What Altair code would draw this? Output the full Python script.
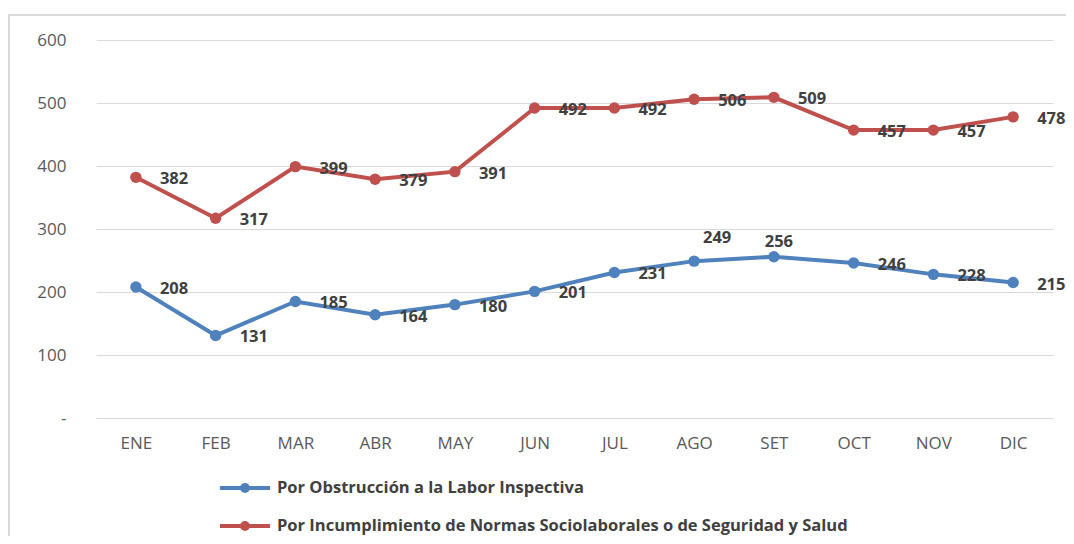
import altair as alt
import pandas as pd

months = ["ENE", "FEB", "MAR", "ABR", "MAY", "JUN", "JUL", "AGO", "SET", "OCT", "NOV", "DIC"]
obstruccion = [208, 131, 185, 164, 180, 201, 231, 249, 256, 246, 228, 215]
incumplimiento = [382, 317, 399, 379, 391, 492, 492, 506, 509, 457, 457, 478]
series_names = [
    "Por Obstrucción a la Labor Inspectiva",
    "Por Incumplimiento de Normas Sociolaborales o de Seguridad y Salud",
]
series_colors = ["#4F81BD", "#C0504D"]
y_ticks = [0, 100, 200, 300, 400, 500, 600]

rows = []
for s, vals in zip(series_names, [obstruccion, incumplimiento]):
    for m, v in zip(months, vals):
        rows.append({"mes": m, "valor": v, "serie": s})
df = pd.DataFrame(rows)

FONT = "Open Sans"

x_enc = alt.X("mes:N", sort=months, scale=alt.Scale(domain=months),
              axis=alt.Axis(title=None, labelAngle=0, labelFont=FONT, labelFontSize=17,
                            labelColor="#595959", labelPadding=17, ticks=False, domain=False,
                            grid=False))
y_enc = alt.Y("valor:Q", scale=alt.Scale(domain=[0, 600], nice=False),
              axis=alt.Axis(title=None, values=y_ticks,
                            labelExpr="datum.value == 0 ? '-' : datum.label",
                            labelFont=FONT, labelFontSize=17, labelColor="#595959",
                            labelPadding=30, ticks=False, domain=False,
                            grid=True, gridColor="#d9d9d9", gridWidth=1.2))
color_scale = alt.Scale(domain=series_names, range=series_colors)

base = alt.Chart(df)

legend = alt.Legend(
    title=None, orient="none", legendX=122, legendY=421, direction="vertical",
    symbolType="M-1,0H1M-0.12,0A0.12,0.12 0 1,1 0.12,0A0.12,0.12 0 1,1 -0.12,0",
    symbolSize=2500, symbolStrokeWidth=4,
    labelFont=FONT, labelFontSize=16.5, labelFontWeight="bold", labelColor="#404040",
    labelOffset=5, rowPadding=0, labelLimit=900,
)

lines = base.mark_line(strokeWidth=4).encode(
    x=x_enc, y=y_enc,
    color=alt.Color("serie:N", scale=color_scale, legend=legend),
)
points = base.mark_circle(size=130, opacity=1).encode(
    x=x_enc, y=y_enc,
    color=alt.Color("serie:N", scale=color_scale, legend=None),
)

label_style = dict(font=FONT, fontSize=16.5, fontWeight="bold", color="#404040", baseline="middle")
is_above = "datum.serie == '" + series_names[0] + "' && (datum.mes == 'AGO' || datum.mes == 'SET')"

labels = base.mark_text(align="left", dx=24, dy=2, **label_style).encode(
    x=x_enc, y=y_enc, text="valor:Q"
).transform_filter("!(" + is_above + ")")

label_ago = base.mark_text(align="center", dx=23, dy=-23, **label_style).encode(
    x=x_enc, y=y_enc, text="valor:Q"
).transform_filter("datum.serie == '" + series_names[0] + "' && datum.mes == 'AGO'")

label_set = base.mark_text(align="center", dx=5, dy=-15, **label_style).encode(
    x=x_enc, y=y_enc, text="valor:Q"
).transform_filter("datum.serie == '" + series_names[0] + "' && datum.mes == 'SET'")

frame = alt.Chart(alt.Data(values=[{}])).mark_rect(
    fill="transparent", stroke="#d9d9d9", strokeWidth=2, clip=False
).encode(
    x=alt.value(-87), x2=alt.value(1000), y=alt.value(-25), y2=alt.value(520)
)

chart = alt.layer(frame, lines, points, labels, label_ago, label_set).properties(
    width=957, height=378,
    background="white",
    autosize=alt.AutoSizeParams(type="none"),
    padding={"left": 88, "top": 32, "right": 13, "bottom": 118},
).configure_view(stroke="transparent", strokeWidth=0)

chart.save("out.html", embed_options={"renderer": "svg", "actions": False})
